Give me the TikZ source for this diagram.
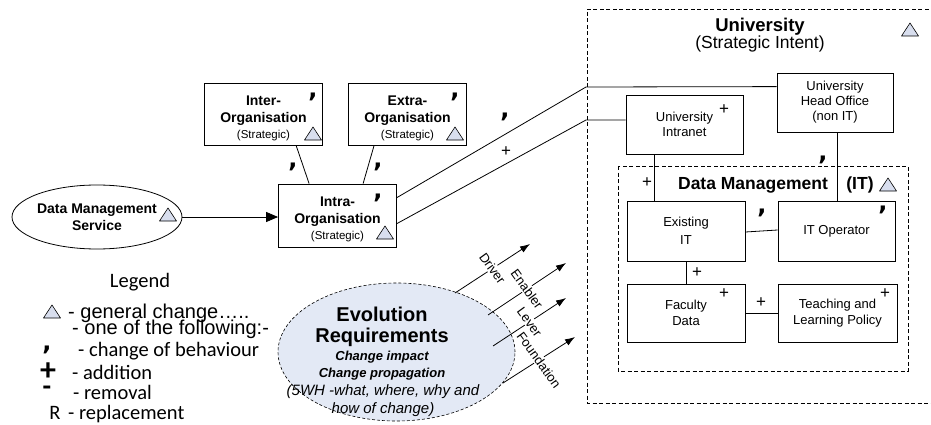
\documentclass[tikz,border=0pt]{standalone}
\usepackage{fontspec}
\setmainfont{Liberation Sans}
\newfontfamily\legfont{Carlito}
\newfontfamily\cmfont{DejaVu Sans}
\usetikzlibrary{shapes.geometric,arrows.meta,calc}
\definecolor{tric}{HTML}{D8DEEE}
\definecolor{evofill}{HTML}{E3E9F5}
\newcommand\myfs[2]{\fontsize{#1}{#2}\selectfont}
\tikzset{
  box/.style={draw, line width=0.8pt, fill=white, align=center, inner sep=0pt, font=\myfs{13}{16}},
  orgbox/.style={draw, line width=0.8pt, fill=white, inner sep=0pt, minimum width=118pt, minimum height=62pt},
  orgtxt/.style={align=center, inner sep=0pt, font=\bfseries\myfs{14}{16.5}},
  conn/.style={line width=0.8pt},
  chg/.style={inner sep=0pt, font=\cmfont\bfseries\myfs{24}{24}},
  addm/.style={inner sep=0pt, font=\myfs{17}{17}},
  tri/.pic={\draw[line width=0.6pt, fill=tric, line join=round] (-8.5,6) -- (8.5,6) -- (0,-7) -- cycle;},
  evarrow/.style={line width=0.8pt, -{Latex[length=10pt,width=7pt]}},
  armlbl/.style={fill=white, inner sep=1pt, rotate=-54, font=\myfs{13}{13}},
  legtxt/.style={anchor=base west, inner sep=0pt, font=\legfont\myfs{20.5}{22}},
  legtxtA/.style={anchor=base west, inner sep=0pt, font=\myfs{20}{22}},
  dashbox/.style={line width=0.8pt, dash pattern=on 4pt off 2.5pt},
}
\begin{document}
\begin{tikzpicture}[x=1pt,y=-1pt]
\useasboundingbox (0,0) rectangle (931,425);

% University dashed frame (right edge outside the picture)
\draw[dashbox] (935,9) -- (587,9) -- (587,403) -- (935,403);
\node[align=center, font=\myfs{17.5}{17}] (univt) at (760,35) {{\myfs{18.5}{17}\bfseries University}\\(Strategic Intent)};
\pic at (910,30) {tri};

% Data Management dashed frame
\draw[dashbox] (618,166) rectangle (908,371);
\node[font=\bfseries\myfs{17.5}{18}] (dmt) at (753,185) {Data Management};
\node[font=\bfseries\myfs{17.5}{18}] (dmit) at (860,185) {(IT)};
\pic at (888,185) {tri};

% organisation boxes
\node[orgbox] (inter) at (263.5,114) {};
\node[orgtxt] (intert) at (263.5,118.5) {Inter-\\Organisation\\{\mdseries\myfs{11.5}{16}(Strategic)}};
\node[orgbox] (extra) at (407.5,114) {};
\node[orgtxt] (extrat) at (407.5,118.5) {Extra-\\Organisation\\{\mdseries\myfs{11.5}{16}(Strategic)}};
\node[orgbox, minimum height=63pt] (intra) at (337.5,215.5) {};
\node[orgtxt] (intrat) at (337.5,219.5) {Intra-\\Organisation\\{\mdseries\myfs{11.5}{16}(Strategic)}};
\node[draw, ellipse, line width=0.8pt, minimum width=170pt, minimum height=64pt, inner sep=0pt, align=center, font=\bfseries\myfs{14}{17}] (dms) at (97,217) {Data Management\\Service};

% university boxes
\node[box, minimum width=116pt, minimum height=59pt, font=\myfs{13}{15}] (ho) at (835,102.5) {University\\Head Office\\(non IT)};
\node[box, minimum width=117pt, minimum height=59pt, font=\myfs{13}{15}] (intranet) at (684.5,124.5) {University\\Intranet};
\node[box, minimum width=118pt, minimum height=60pt, font=\myfs{13}{18}] (eit) at (686,231) {Existing\\IT};
\node[box, minimum width=117pt, minimum height=60pt] (itop) at (836.5,231) {IT Operator};
\node[box, minimum width=118pt, minimum height=58pt] (fac) at (686,313) {Faculty\\Data};
\node[box, minimum width=119pt, minimum height=58pt] (teach) at (837.5,313) {Teaching and\\Learning Policy};

% connectors
\draw[conn, -{Triangle[length=12pt,width=10pt]}] (dms.east) -- (dms.east -| intra.west);
\draw[conn] ($(inter.south west)+(92,0)$) -- ($(intra.north west)+(31,0)$);
\draw[conn] ($(extra.south west)+(26,0)$) -- ($(intra.north west)+(85,0)$);
\coordinate (bendA) at (586,87);
\coordinate (bendB) at (586,120);
\draw[conn] ($(intra.north east)+(0,14)$) -- (bendA) -- ($(ho.north west)+(0,14)$);
\draw[conn] ($(intra.north east)+(0,40)$) -- (bendB) -- (bendB -| intranet.west);
\draw[conn] ($(intranet.south west)+(29,0)$) -- ($(eit.north west)+(28,0)$);
\draw[conn] ($(ho.south west)+(61,0)$) -- ($(itop.north west)+(60,0)$);
\draw[conn] ($(eit.east)+(0,1)$) -- ($(itop.west)+(0,-1)$);
\draw[conn] (eit.south) -- (fac.north);
\draw[conn] (fac.east) -- (teach.west);

% change marks
\pic at (313,134) {tri};
\pic at (455,134) {tri};
\pic at (385,233) {tri};
\pic at (168,215) {tri};
\node[chg] (c1) at (313,97) {,};
\node[chg] (c2) at (455,97) {,};
\node[chg] (c3) at (378,198) {,};
\node[chg] (c4) at (293,167) {,};
\node[chg] (c5) at (378,167) {,};
\node[chg] (c6) at (505,117) {,};
\node[chg] (c7) at (823,160) {,};
\node[chg] (c8) at (762,213) {,};
\node[chg] (c9) at (883,210) {,};
\node[addm] (p1) at (506,152) {+};
\node[addm] (p2) at (724,110) {+};
\node[addm] (p3) at (647,183) {+};
\node[addm] (p4) at (697,273) {+};
\node[addm] (p5) at (724,294) {+};
\node[addm] (p6) at (761,303) {+};
\node[addm] (p7) at (885,294) {+};

% evolution requirements
\node[draw, ellipse, fill=evofill, line width=0.6pt, dash pattern=on 3pt off 2pt, minimum width=237pt, minimum height=138pt] (evo) at (396.5,352) {};
\node[align=center, font=\bfseries\myfs{20}{21}] (evot) at (382,327) {Evolution\\Requirements};
\node[align=center, font=\bfseries\itshape\myfs{13}{17}] (evos) at (382,366) {Change impact\\Change propagation};
\node[align=center, font=\itshape\myfs{15}{18}] (evon) at (383,401) {(5WH -what, where, why and\\how of change)};
\coordinate (d0) at (455,293); \coordinate (d1) at (530,244);
\coordinate (e0) at (488,315); \coordinate (e1) at (566,263);
\coordinate (l0) at (493,346); \coordinate (l1) at (566,298);
\coordinate (f0) at (503,383); \coordinate (f1) at (575,337);
\draw[evarrow] (d0) -- node[armlbl] {Driver} (d1);
\draw[evarrow] (e0) -- node[armlbl] {Enabler} (e1);
\draw[evarrow] (l0) -- node[armlbl] {Lever} (l1);
\draw[evarrow] (f0) -- node[armlbl] {Foundation} (f1);

% legend
\node[font=\legfont\myfs{20.5}{22}] (leg) at (140,282) {Legend};
\pic at (52,312) {tri};
\node[legtxtA] (lg1) at (68,318) {- general change…..};
\node[legtxtA] (lg2) at (72,334) {- one of the following:-};
\node[chg] (lgc) at (47,350) {,};
\node[legtxt] (lg3) at (78,356) {- change of behaviour};
\node[inner sep=0pt, font=\legfont\bfseries\myfs{32}{32}] (lgp) at (48,372) {+};
\node[legtxt] (lg4) at (72,379) {- addition};
\node[inner sep=0pt, font=\legfont\bfseries\myfs{28}{28}] (lgm) at (47,391) {-};
\node[legtxt] (lg5) at (73,399) {- removal};
\node[inner sep=0pt, font=\legfont\myfs{20.5}{22}] (lgr) at (55,413) {R};
\node[legtxt] (lg6) at (68,419) {- replacement};
\end{tikzpicture}
\end{document}
